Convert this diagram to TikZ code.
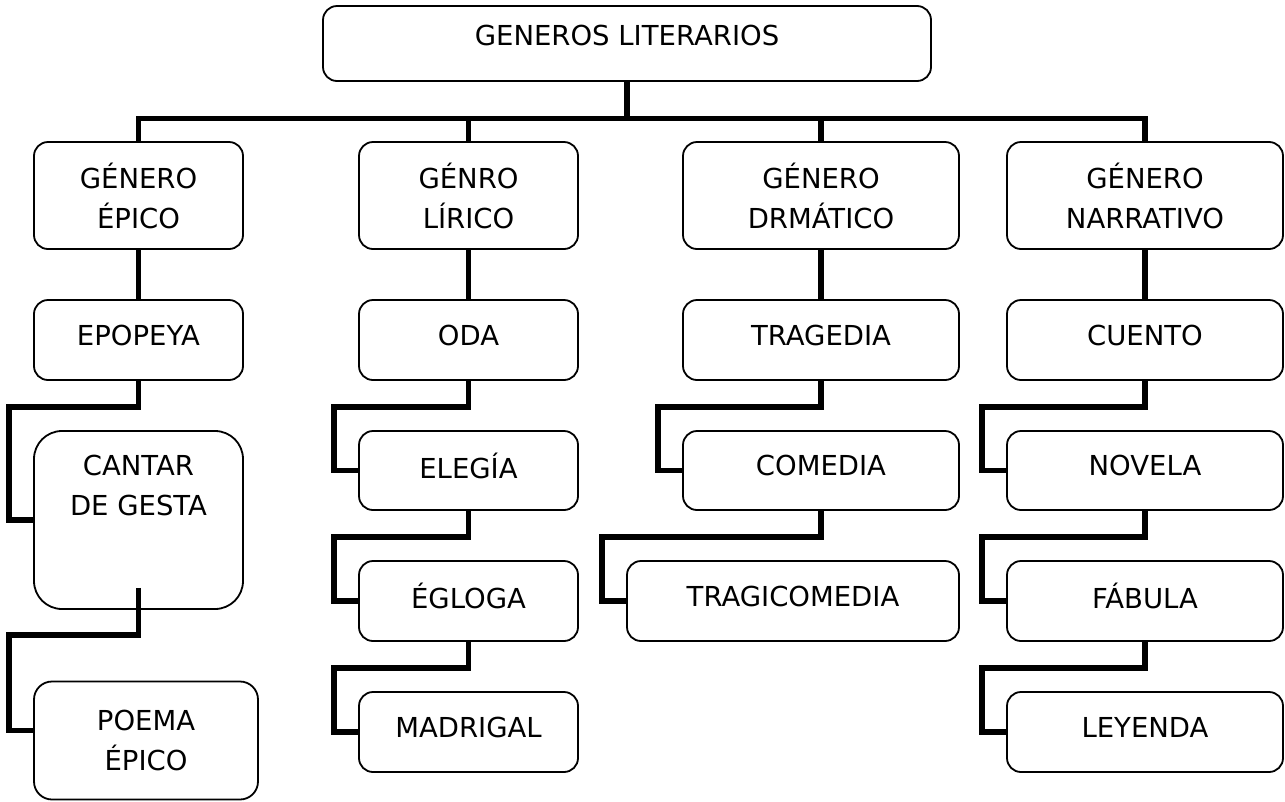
\documentclass[tikz,border=0pt]{standalone}
\usepackage{fontspec}
\setmainfont{DejaVu Sans}
\usetikzlibrary{positioning}

\begin{document}
\begin{tikzpicture}[x=1pt, y=-1pt,
        genbox/.style={draw=black, line width=1.8pt, rounded corners=14pt, align=center,
            inner sep=0pt, font=\fontsize{27.5}{40}\selectfont},
        onebox/.style={genbox, text depth=10pt},
        conn/.style={line width=5.5pt, line join=miter},
        elbow/.style={to path={-- ++(0,#1) -| ([xshift=-24pt]\tikztotarget.west) -- (\tikztotarget.west)}},
        elbow/.default=26]
                                \useasboundingbox (0,0) rectangle (1285,801);
                                \node[onebox, text depth=16pt, minimum width=608pt, minimum height=75pt] (generos) at (627,43.5) {GENEROS LITERARIOS};
                                \node[genbox, minimum width=209pt, minimum height=107pt] (epico) at (138.5,195.5) {GÉNERO\\ÉPICO};
                                \node[genbox, minimum width=219pt, minimum height=107pt] (lirico) at (468.5,195.5) {GÉNRO\\LÍRICO};
                                \node[genbox, minimum width=276pt, minimum height=107pt] (dramatico) at (821,195.5) {GÉNERO\\DRMÁTICO};
                                \node[genbox, minimum width=276pt, minimum height=107pt] (narrativo) at (1145,195.5) {GÉNERO\\NARRATIVO};
                                \node[onebox, minimum width=209pt, minimum height=80pt] (epopeya) at (138.5,340) {EPOPEYA};
                                \node[onebox, minimum width=219pt, minimum height=80pt] (oda) at (468.5,340) {ODA};
                                \node[onebox, minimum width=276pt, minimum height=80pt] (tragedia) at (821,340) {TRAGEDIA};
                                \node[onebox, minimum width=276pt, minimum height=80pt] (cuento) at (1145,340) {CUENTO};
                                \node[genbox, rounded corners=28pt, minimum width=209pt, minimum height=178pt] (cantar) at (138.5,520)
                                    {\parbox[c][166pt][t]{200pt}{\centering\vspace{18pt}CANTAR\\DE GESTA}};
                                \node[onebox, minimum width=219pt, minimum height=79pt] (elegia) at (468.5,470.5) {ELEGÍA};
                                \node[onebox, minimum width=276pt, minimum height=79pt] (comedia) at (821,470.5) {COMEDIA};
                                \node[onebox, minimum width=276pt, minimum height=79pt] (novela) at (1145,470.5) {NOVELA};
                                \node[onebox, minimum width=219pt, minimum height=80pt] (egloga) at (468.5,601) {ÉGLOGA};
                                \node[onebox, minimum width=332pt, minimum height=80pt] (tragicomedia) at (793,601) {TRAGICOMEDIA};
                                \node[onebox, minimum width=276pt, minimum height=80pt] (fabula) at (1145,601) {FÁBULA};
                                \node[genbox, rounded corners=18pt, minimum width=224pt, minimum height=118pt] (poema) at (146,740.5) {POEMA\\ÉPICO};
                                \node[onebox, minimum width=219pt, minimum height=80pt] (madrigal) at (468.5,732) {MADRIGAL};
                                \node[onebox, minimum width=276pt, minimum height=80pt] (leyenda) at (1145,732) {LEYENDA};
                                \coordinate (bus) at (627,118.5);
                                \draw[conn] (generos.south) -- (bus);
                                \draw[conn] (epico.north) |- (bus) -| (narrativo.north);
                                \draw[conn] (lirico.north) -- (lirico.north |- bus);
                                \draw[conn] (dramatico.north) -- (dramatico.north |- bus);
                                \draw[conn]
                                (epico) -- (epopeya)
                                (lirico) -- (oda)
                                (dramatico) -- (tragedia)
                                (narrativo) -- (cuento);
                                \draw[conn]
                                (epopeya.south) to[elbow] (cantar)
                                (oda.south) to[elbow] (elegia)
                                (elegia.south) to[elbow] (egloga)
                                (egloga.south) to[elbow] (madrigal)
                                (tragedia.south) to[elbow] (comedia)
                                (comedia.south) to[elbow] (tragicomedia)
                                (cuento.south) to[elbow] (novela)
                                (novela.south) to[elbow] (fabula)
                                (fabula.south) to[elbow] (leyenda);
                                \draw[conn] ([yshift=22pt]cantar.south) -- ++(0,47) -| ([xshift=-24pt,yshift=10pt]poema.west) -- ([yshift=10pt]poema.west);
                            \end{tikzpicture}
\end{document}
